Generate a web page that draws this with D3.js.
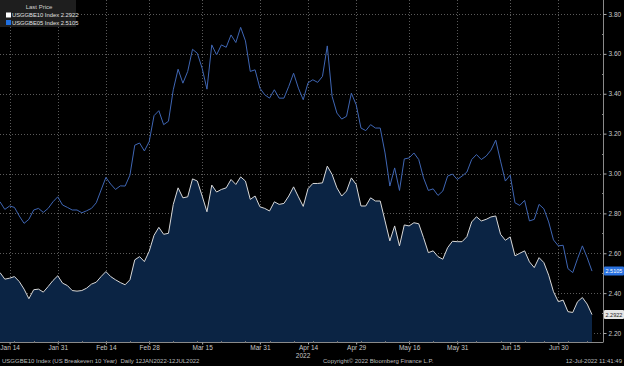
<!DOCTYPE html>
<html>
<head>
<meta charset="utf-8">
<script src="https://cdn.jsdelivr.net/npm/d3@7"></script>
<style>
  body { margin: 0; background: #000; }
  svg { display: block; }
  text { font-family: "Liberation Sans", Arial, sans-serif; }
</style>
</head>
<body>
<svg width="624" height="366"></svg>
<script>
// US 10y breakeven (USGGBE10), daily 12 Jan 2022 - 12 Jul 2022
var be10 = [
  2.503, 2.470, 2.475, 2.483, 2.458, 2.420, 2.372, 2.417, 2.420, 2.405,
  2.433, 2.463, 2.487, 2.450, 2.438, 2.413, 2.410, 2.413, 2.425, 2.445,
  2.455, 2.483, 2.508, 2.483, 2.467, 2.453, 2.442, 2.467, 2.567, 2.583,
  2.558, 2.610, 2.690, 2.730, 2.695, 2.700, 2.845, 2.928, 2.878, 2.883,
  2.973, 2.962, 2.887, 2.808, 2.942, 2.907, 2.920, 2.928, 2.970, 2.945,
  2.983, 2.962, 2.870, 2.887, 2.833, 2.825, 2.812, 2.858, 2.845, 2.850,
  2.887, 2.933, 2.883, 2.835, 2.924, 2.950, 2.950, 2.953, 3.037, 2.995,
  2.928, 2.887, 2.912, 2.978, 2.945, 2.837, 2.837, 2.878, 2.862, 2.862,
  2.762, 2.662, 2.737, 2.637, 2.742, 2.737, 2.753, 2.748, 2.678, 2.603,
  2.612, 2.583, 2.570, 2.628, 2.660, 2.658, 2.658, 2.683, 2.757, 2.783,
  2.762, 2.770, 2.782, 2.787, 2.695, 2.665, 2.682, 2.587, 2.600, 2.612,
  2.557, 2.528, 2.578, 2.553, 2.490, 2.407, 2.357, 2.365, 2.307, 2.303,
  2.357, 2.378, 2.345, 2.2922
];

// US 5y breakeven (USGGBE05)
var be05 = [
  2.858, 2.820, 2.837, 2.830, 2.787, 2.750, 2.770, 2.817, 2.825, 2.805,
  2.825, 2.858, 2.883, 2.842, 2.830, 2.817, 2.817, 2.803, 2.813, 2.825,
  2.853, 2.917, 2.980, 2.947, 2.920, 2.938, 2.937, 2.992, 3.142, 3.153,
  3.113, 3.160, 3.290, 3.315, 3.245, 3.262, 3.420, 3.523, 3.453, 3.512,
  3.623, 3.603, 3.528, 3.423, 3.645, 3.595, 3.645, 3.633, 3.695, 3.657,
  3.733, 3.665, 3.512, 3.520, 3.428, 3.395, 3.378, 3.420, 3.378, 3.378,
  3.437, 3.503, 3.428, 3.370, 3.455, 3.470, 3.457, 3.487, 3.640, 3.387,
  3.303, 3.273, 3.287, 3.403, 3.345, 3.228, 3.215, 3.245, 3.228, 3.228,
  3.103, 2.937, 3.028, 2.915, 3.073, 3.078, 3.103, 3.070, 2.978, 2.915,
  2.923, 2.890, 2.912, 2.987, 2.997, 2.970, 2.987, 3.007, 3.070, 3.095,
  3.070, 3.087, 3.117, 3.167, 3.062, 2.962, 2.992, 2.853, 2.840, 2.865,
  2.762, 2.770, 2.845, 2.823, 2.757, 2.667, 2.637, 2.640, 2.523, 2.503,
  2.573, 2.637, 2.578, 2.5105
];

// market holidays (no fixing on those days)
var holidays = ["2022-01-17", "2022-02-21", "2022-04-15", "2022-05-30", "2022-06-20", "2022-07-04"];

var tickDates = ["2022-01-14", "2022-01-31", "2022-02-14", "2022-02-28", "2022-03-15", "2022-03-31",
                 "2022-04-14", "2022-04-29", "2022-05-16", "2022-05-31", "2022-06-15", "2022-06-30"];
var tickLabels = ["Jan 14", "Jan 31", "Feb 14", "Feb 28", "Mar 15", "Mar 31",
                  "Apr 14", "Apr 29", "May 16", "May 31", "Jun 15", "Jun 30"];
var yTicks = [2.2, 2.4, 2.6, 2.8, 3.0, 3.2, 3.4, 3.6, 3.8];
var yMinor = [2.3, 2.5, 2.7, 2.9, 3.1, 3.3, 3.5, 3.7];

var parseDay = d3.timeParse("%Y-%m-%d"),
    fmtDay = d3.timeFormat("%Y-%m-%d");

// trading days only (Bloomberg skips weekends/holidays on the x axis)
var days = d3.timeDay.range(parseDay("2022-01-12"), parseDay("2022-07-13"))
    .filter(d => d.getDay() % 6 != 0 && holidays.indexOf(fmtDay(d)) < 0)
    .map(fmtDay);

var svg = d3.select("svg"),
    width = +svg.attr("width"),
    height = +svg.attr("height");

var plotRight = 603, plotBottom = 342;

var x = d3.scalePoint().domain(days).range([0, 592]);
var y = d3.scaleLinear().domain([2.2, 3.8]).range([333, 14]);

svg.append("rect").attr("width", width).attr("height", height).attr("fill", "#000");

svg.append("clipPath").attr("id", "plot")
  .append("rect").attr("width", plotRight).attr("height", plotBottom);

var g = svg.append("g").attr("clip-path", "url(#plot)");

// grid
g.append("g")
    .attr("stroke", "#5a5a5a")
    .attr("stroke-dasharray", "1,2")
    .selectAll("line")
    .data(yTicks)
    .join("line")
      .attr("x1", 0).attr("x2", plotRight)
      .attr("y1", d => Math.round(y(d)) + 0.5).attr("y2", d => Math.round(y(d)) + 0.5);

g.append("g")
    .attr("stroke", "#5a5a5a")
    .attr("stroke-dasharray", "1,2")
    .selectAll("line")
    .data(tickDates)
    .join("line")
      .attr("x1", d => Math.round(x(d)) + 0.5).attr("x2", d => Math.round(x(d)) + 0.5)
      .attr("y1", 0).attr("y2", plotBottom);

// 10y area
var area = d3.area()
    .x((d, i) => x(days[i]))
    .y0(plotBottom)
    .y1(d => y(d));

g.append("path")
    .datum(be10)
    .attr("fill", "#0b2444")
    .attr("d", area);

var line = d3.line()
    .x((d, i) => x(days[i]))
    .y(d => y(d));

g.append("path")
    .datum(be05)
    .attr("fill", "none")
    .attr("stroke", "#3f66b4")
    .attr("stroke-width", 1)
    .attr("d", line);

g.append("path")
    .datum(be10)
    .attr("fill", "none")
    .attr("stroke", "#d8d8d8")
    .attr("stroke-width", 1)
    .attr("d", line);

// right axis
var yAxis = svg.append("g")
    .attr("transform", "translate(" + (plotRight + 0.5) + ",0)")
    .call(d3.axisRight(y).tickValues(yTicks).tickSize(3).tickPadding(2).tickFormat(d3.format(".2f")));
yAxis.select(".domain").attr("stroke", "#8a8a8a").attr("d", "M0,0V" + plotBottom);
yAxis.selectAll(".tick line").attr("stroke", "#aaa");
yAxis.selectAll("text").attr("fill", "#c8c8c8").attr("font-size", 6.5);

svg.append("g")
    .attr("stroke", "#888")
    .selectAll("line")
    .data(yMinor)
    .join("line")
      .attr("x1", plotRight - 1).attr("x2", plotRight + 1)
      .attr("y1", d => Math.round(y(d)) + 0.5).attr("y2", d => Math.round(y(d)) + 0.5);

// bottom axis
var xAxis = svg.append("g")
    .attr("transform", "translate(0," + (plotBottom + 0.5) + ")")
    .call(d3.axisBottom(x).tickValues(tickDates).tickSize(2).tickPadding(1)
        .tickFormat((d, i) => tickLabels[i]));
xAxis.select(".domain").attr("stroke", "#8a8a8a").attr("d", "M0,0H" + (plotRight + 0.5));
xAxis.selectAll(".tick line").attr("stroke", "#aaa");
xAxis.selectAll("text").attr("fill", "#c8c8c8").attr("font-size", 6.5);

// weekly minor ticks along the date axis
var mondays = days.filter((d, i) => i > 0 && parseDay(d).getDay() < parseDay(days[i - 1]).getDay());
svg.append("g")
    .attr("stroke", "#777")
    .selectAll("line")
    .data(mondays)
    .join("line")
      .attr("x1", d => Math.round(x(d)) + 0.5).attr("x2", d => Math.round(x(d)) + 0.5)
      .attr("y1", plotBottom - 1).attr("y2", plotBottom + 1);

svg.append("text")
    .attr("x", x("2022-04-14") - 5)
    .attr("y", 357.5)
    .attr("text-anchor", "middle")
    .attr("fill", "#c8c8c8")
    .attr("font-size", 6.5)
    .text("2022");

// last price tags
var tags = [
  {v: be05[be05.length - 1], fill: "#2a72e0", color: "#fff"},
  {v: be10[be10.length - 1], fill: "#e6e6e6", color: "#222"}
];
var tag = svg.append("g").selectAll("g")
    .data(tags)
    .join("g")
      .attr("transform", d => "translate(" + (plotRight + 1) + "," + y(d.v) + ")");
tag.append("rect")
    .attr("x", 0).attr("y", -4.5)
    .attr("width", 20).attr("height", 9)
    .attr("rx", 1)
    .attr("fill", d => d.fill);
tag.append("text")
    .attr("x", 1.5).attr("dy", "0.35em")
    .attr("font-size", 5.5)
    .attr("fill", d => d.color)
    .text(d => d.v.toFixed(4));

// legend
var legend = svg.append("g");
legend.append("rect")
    .attr("width", 76).attr("height", 27)
    .attr("fill", "#1e1e1e");
legend.append("text")
    .attr("x", 39).attr("y", 8.5)
    .attr("text-anchor", "middle")
    .attr("fill", "#d0d0d0")
    .attr("font-size", 6)
    .text("Last Price");

var legendItems = [
  {name: "USGGBE10 Index", v: be10[be10.length - 1], color: "#ffffff"},
  {name: "USGGBE05 Index", v: be05[be05.length - 1], color: "#1f6fe0"}
];
var li = legend.selectAll("g")
    .data(legendItems)
    .join("g")
      .attr("transform", (d, i) => "translate(6," + (15 + i * 7.5) + ")");
li.append("rect")
    .attr("x", 0).attr("y", -2.5)
    .attr("width", 5).attr("height", 5)
    .attr("fill", d => d.color);
li.append("text")
    .attr("x", 6).attr("dy", "0.35em")
    .attr("fill", "#e0e0e0")
    .attr("font-size", 5.8)
    .text(d => d.name + " " + d.v.toFixed(4));

// footer
var footer = [
  {t: "USGGBE10 Index (US Breakeven 10 Year)  Daily 12JAN2022-12JUL2022", x: 2, anchor: "start"},
  {t: "Copyright\u00a9 2022 Bloomberg Finance L.P.", x: 323, anchor: "start"},
  {t: "12-Jul-2022 11:41:49", x: 622, anchor: "end"}
];
svg.append("g").selectAll("text")
    .data(footer)
    .join("text")
      .attr("x", d => d.x)
      .attr("y", 363)
      .attr("text-anchor", d => d.anchor)
      .attr("fill", "#bdbdbd")
      .attr("font-size", 6)
      .style("white-space", "pre")
      .text(d => d.t);
</script>
</body>
</html>
